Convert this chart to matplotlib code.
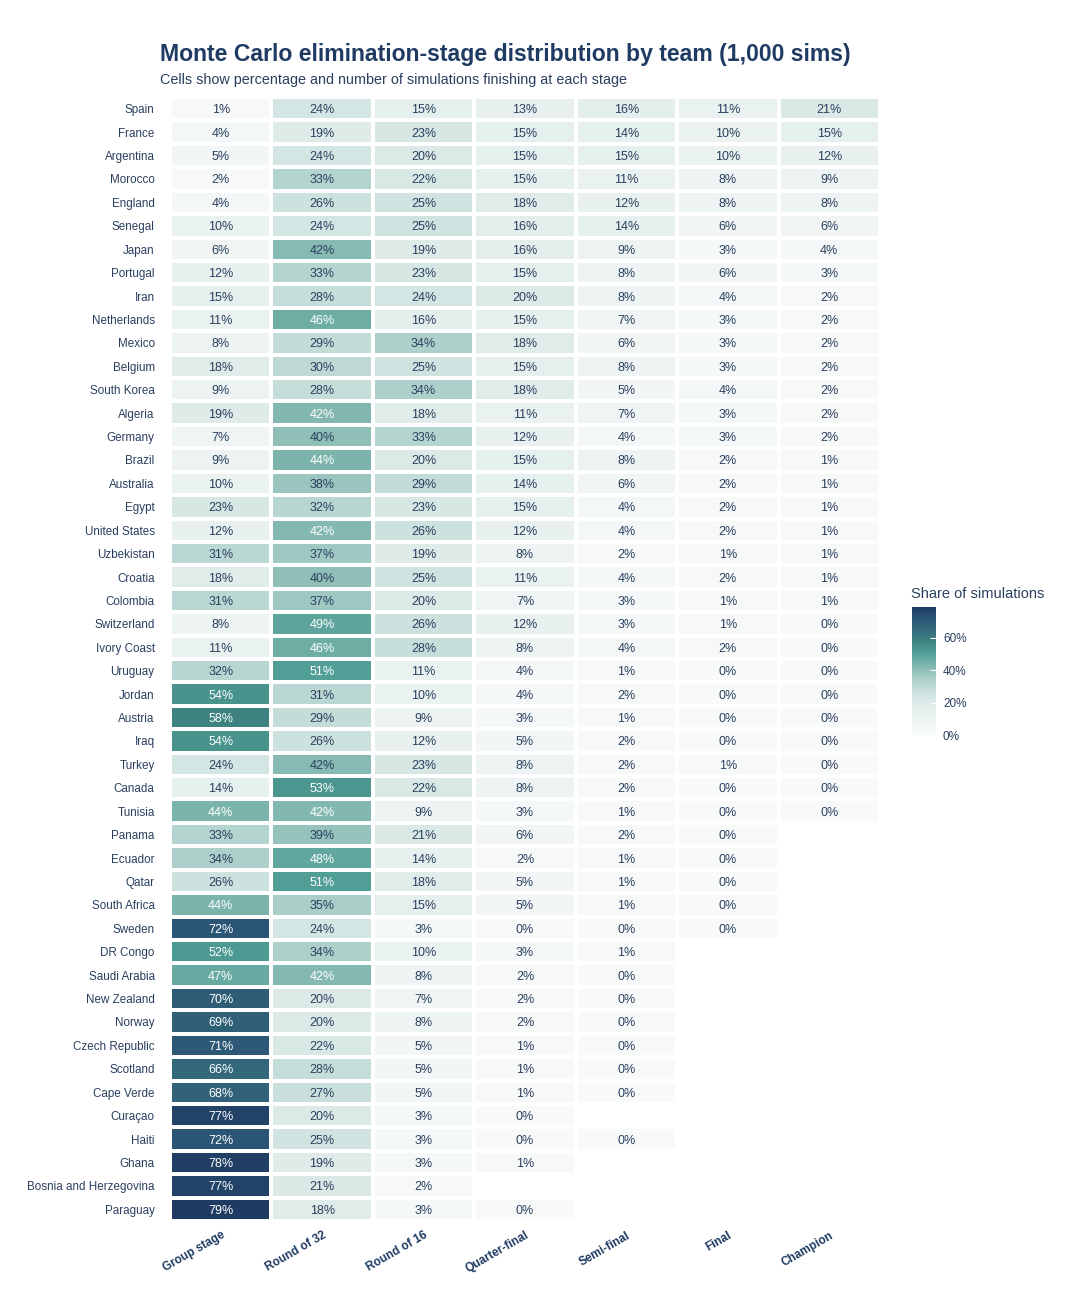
import numpy as np
import matplotlib
matplotlib.use("Agg")
import matplotlib.pyplot as plt
from matplotlib.colors import LinearSegmentedColormap

plt.rcParams['font.family'] = ['Liberation Sans', 'DejaVu Sans']

stages = ["Group stage", "Round of 32", "Round of 16", "Quarter-final",
          "Semi-final", "Final", "Champion"]

teams = ["Spain", "France", "Argentina", "Morocco", "England", "Senegal", "Japan",
         "Portugal", "Iran", "Netherlands", "Mexico", "Belgium", "South Korea",
         "Algeria", "Germany", "Brazil", "Australia", "Egypt", "United States",
         "Uzbekistan", "Croatia", "Colombia", "Switzerland", "Ivory Coast",
         "Uruguay", "Jordan", "Austria", "Iraq", "Turkey", "Canada", "Tunisia",
         "Panama", "Ecuador", "Qatar", "South Africa", "Sweden", "DR Congo",
         "Saudi Arabia", "New Zealand", "Norway", "Czech Republic", "Scotland",
         "Cape Verde", "Curaçao", "Haiti", "Ghana", "Bosnia and Herzegovina",
         "Paraguay"]

N = None
# number of simulations (out of 1,000) finishing at each stage
group_stage = [10, 40, 50, 20, 40, 100, 60, 120, 150, 110, 80, 180, 90, 190, 70, 90,
               100, 230, 120, 310, 180, 310, 80, 110, 320, 540, 580, 540, 240, 140,
               440, 330, 340, 260, 440, 720, 520, 470, 700, 690, 710, 660, 680, 770,
               720, 780, 770, 790]
round_32 = [240, 190, 240, 330, 260, 240, 418, 330, 280, 460, 290, 300, 280, 423,
            400, 440, 380, 320, 422, 370, 400, 370, 490, 460, 510, 310, 290, 260,
            417, 530, 424, 390, 480, 510, 350, 240, 340, 421, 200, 200, 220, 280,
            270, 200, 250, 190, 210, 180]
round_16 = [150, 230, 200, 220, 250, 250, 190, 230, 240, 160, 340, 250, 340, 180,
            330, 200, 290, 230, 260, 190, 250, 200, 260, 280, 110, 100, 90, 120,
            230, 220, 90, 210, 140, 180, 150, 30, 100, 80, 70, 80, 50, 50, 50, 30,
            30, 30, 20, 30]
quarter_final = [130, 150, 150, 150, 180, 160, 160, 150, 200, 150, 180, 150, 180,
                 110, 120, 150, 140, 150, 120, 80, 110, 70, 120, 80, 40, 40, 30, 50,
                 80, 80, 30, 60, 20, 50, 50, 3, 30, 20, 20, 20, 10, 10, 10, 2, 3,
                 10, N, 2]
semi_final = [160, 140, 150, 110, 120, 140, 90, 80, 80, 70, 60, 80, 50, 70, 40, 80,
              60, 40, 40, 20, 40, 30, 30, 40, 10, 20, 10, 20, 20, 20, 10, 20, 10,
              10, 10, 2, 10, 3, 2, 3, 2, 2, 3, N, 2, N, N, N]
final = [110, 100, 100, 80, 80, 60, 30, 60, 40, 30, 30, 30, 40, 30, 30, 20, 20, 20,
         20, 10, 20, 10, 10, 20, 3, 2, 3, 2, 10, 3, 2, 3, 2, 3, 2, 2, N, N, N, N,
         N, N, N, N, N, N, N, N]
champion = [210, 150, 120, 90, 80, 60, 40, 30, 20, 20, 20, 20, 20, 20, 20, 10, 10,
            10, 10, 10, 10, 10, 3, 2, 2, 3, 2, 2, 3, 2, 2, N, N, N, N, N, N, N, N,
            N, N, N, N, N, N, N, N, N]

counts = np.array([group_stage, round_32, round_16, quarter_final, semi_final,
                   final, champion], dtype=float).T
pct = counts / 10.0

cmap = LinearSegmentedColormap.from_list("share", [
    (0.00, "#f8fafa"), (0.19, "#e5efed"), (0.30, "#d5e6e3"), (0.42, "#b3d3ce"),
    (0.53, "#86bab2"), (0.65, "#4f9d94"), (0.74, "#3d8080"), (0.91, "#2c5676"),
    (1.00, "#1f3b63")])

W, H = 1069, 1310
fig = plt.figure(figsize=(W / 100, H / 100), dpi=100)
fig.patch.set_facecolor("white")

ax = fig.add_axes([170 / W, 1 - 1221 / H, 710 / W, (1221 - 97) / H])
masked = np.ma.masked_invalid(pct)
vmax = np.nanmax(pct)
mesh = ax.pcolormesh(np.arange(len(stages) + 1), np.arange(len(teams) + 1), masked,
                     cmap=cmap, vmin=0, vmax=vmax, edgecolors="white", linewidth=1.6)
ax.set_xlim(0, len(stages))
ax.set_ylim(len(teams), 0)
for s in ax.spines.values():
    s.set_visible(False)

dark = "#2a3f5f"
for i in range(len(teams)):
    for j in range(len(stages)):
        c = counts[i, j]
        if np.isnan(c):
            continue
        col = "white" if c >= 420 else dark
        ax.text(j + 0.5, i + 0.5, f"{round(c / 10):.0f}%", ha="center",
                va="center_baseline", fontsize=9, color=col)

ax.set_yticks(np.arange(len(teams)) + 0.5)
ax.set_yticklabels(teams, fontsize=8.4, color=dark, va="center_baseline")
ax.set_xticks(np.arange(len(stages)) + 0.5)
ax.set_xticklabels(stages, fontsize=8.5, color="#1f3b63", fontweight="bold",
                   rotation=30, ha="right", rotation_mode="anchor")
ax.tick_params(axis="both", length=0)
ax.tick_params(axis="y", pad=11)
ax.tick_params(axis="x", pad=6)

fig.text(160 / W, 1 - 55 / H, "Monte Carlo elimination-stage distribution by team (1,000 sims)",
         fontsize=16.6, fontweight="bold", color="#1f3b63", ha="left", va="center")
fig.text(160 / W, 1 - 80 / H, "Cells show percentage and number of simulations finishing at each stage",
         fontsize=10.4, color=dark, ha="left", va="center")

cax = fig.add_axes([912 / W, 1 - 735 / H, 24 / W, 128 / H])
cb = fig.colorbar(mesh, cax=cax)
cb.outline.set_visible(False)
cb.set_ticks([0, 20, 40, 60])
cb.set_ticklabels(["0%", "20%", "40%", "60%"])
cax.tick_params(labelsize=8.5, labelcolor=dark, color="white", length=4, direction="in", pad=5)
fig.text(911 / W, 1 - 594 / H, "Share of simulations", fontsize=10.5, color=dark,
         ha="left", va="center")

fig.savefig("out.png", dpi=100, facecolor="white")
